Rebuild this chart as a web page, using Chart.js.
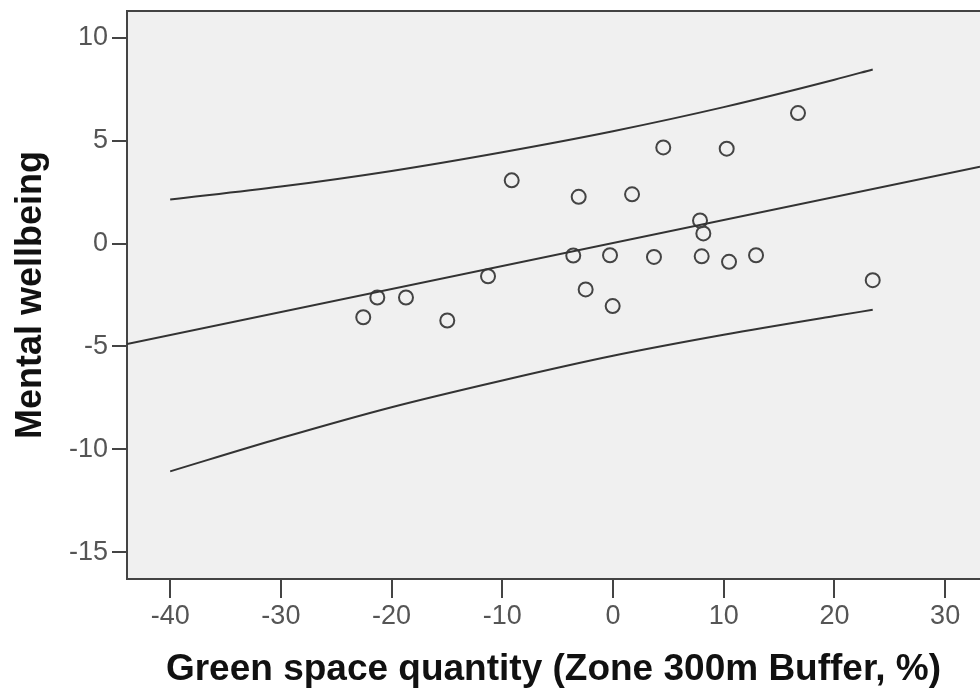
<!DOCTYPE html>
<html>
<head>
<meta charset="utf-8">
<script src="https://cdn.jsdelivr.net/npm/chart.js@4.4.1/dist/chart.umd.min.js"></script>
<style>
  body { margin: 0; background: #fff; }
  #wrap { width: 980px; height: 693px; }
</style>
</head>
<body>
<div id="wrap"><canvas id="scatterChart"></canvas></div>
<script>
// Points
const greenSpace = [-22.56, -21.29, -18.70, -14.97, -11.29, -9.15, -3.59, -3.10, -2.47, -0.27, -0.03,
                    1.72, 3.70, 4.54, 7.86, 8.16, 8.01, 10.27, 10.48, 12.92, 16.71, 23.46];
const wellbeing = [-3.58, -2.62, -2.62, -3.74, -1.59, 3.07, -0.58, 2.27, -2.23, -0.57, -3.04,
                   2.39, -0.65, 4.67, 1.12, 0.49, -0.62, 4.61, -0.89, -0.57, 6.34, -1.78];

// Fit line (runs across the whole frame)
const fitX = [-43.9, 33.15];
const fitY = [-4.88, 3.73];

// Prediction interval curves
const bandX = [-40, -30, -20, -10, 0, 10, 20, 23.46];
const upperY = [2.14, 2.77, 3.53, 4.44, 5.46, 6.63, 7.96, 8.46];
const lowerY = [-11.07, -9.45, -7.95, -6.65, -5.45, -4.43, -3.52, -3.22];

// Axis ticks
const xTicks = [-40, -30, -20, -10, 0, 10, 20, 30];
const yTicks = [-15, -10, -5, 0, 5, 10];

const FONT = "'Liberation Sans', Arial, sans-serif";
const INK = "#444";

const toXY = (xs, ys) => xs.map((x, i) => ({ x: x, y: ys[i] }));

// grey plot background
const plotBg = {
  id: "plotBg",
  beforeDraw(chart) {
    const a = chart.chartArea;
    const ctx = chart.ctx;
    ctx.save();
    ctx.fillStyle = "#f0f0f0";
    ctx.fillRect(a.left, a.top, a.right - a.left, a.bottom - a.top);
    ctx.restore();
  }
};

const lineStyle = {
  type: "line",
  showLine: true,
  borderColor: "#333",
  borderWidth: 2,
  pointRadius: 0,
  fill: false
};

new Chart(document.getElementById("scatterChart"), {
  type: "scatter",
  data: {
    datasets: [
      Object.assign({ label: "Fit", data: toXY(fitX, fitY) }, lineStyle),
      Object.assign({ label: "Upper", data: toXY(bandX, upperY), cubicInterpolationMode: "monotone" }, lineStyle),
      Object.assign({ label: "Lower", data: toXY(bandX, lowerY), cubicInterpolationMode: "monotone" }, lineStyle),
      {
        label: "Mental wellbeing",
        data: toXY(greenSpace, wellbeing),
        pointStyle: "circle",
        pointRadius: 7,
        pointBorderWidth: 2,
        pointBorderColor: INK,
        pointBackgroundColor: "rgba(0,0,0,0)"
      }
    ]
  },
  options: {
    responsive: true,
    maintainAspectRatio: false,
    animation: false,
    layout: { autoPadding: false, padding: { top: 11, right: 0, bottom: 0, left: 0 } },
    plugins: {
      legend: { display: false },
      tooltip: { enabled: false }
    },
    scales: {
      x: {
        type: "linear",
        min: -43.9,
        max: 33.15,
        afterBuildTicks: scale => { scale.ticks = xTicks.map(v => ({ value: v })); },
        afterFit: scale => {
          scale.height = 114;
          scale.paddingLeft = 0;
          scale.paddingRight = 0;
        },
        border: { display: true, color: INK, width: 2 },
        grid: { drawOnChartArea: false, drawTicks: true, tickLength: 19, color: INK, lineWidth: 2 },
        ticks: { color: "#555", font: { family: FONT, size: 27 }, padding: 2, maxRotation: 0 },
        title: {
          display: true,
          text: "Green space quantity (Zone 300m Buffer, %)",
          color: "#111",
          font: { family: FONT, size: 37, weight: "bold" },
          padding: { top: 0, bottom: 1 }
        }
      },
      xTop: {
        type: "linear",
        position: "top",
        min: -43.9,
        max: 33.15,
        afterFit: scale => {
          scale.height = 0;
          scale.paddingLeft = 0;
          scale.paddingRight = 0;
        },
        border: { display: true, color: INK, width: 2 },
        grid: { display: false },
        ticks: { display: false }
      },
      y: {
        type: "linear",
        min: -16.3,
        max: 11.3,
        afterBuildTicks: scale => { scale.ticks = yTicks.map(v => ({ value: v })); },
        afterFit: scale => {
          scale.width = 127;
          scale.paddingTop = 0;
          scale.paddingBottom = 0;
        },
        border: { display: true, color: INK, width: 2 },
        grid: { drawOnChartArea: false, drawTicks: true, tickLength: 15, color: INK, lineWidth: 2 },
        ticks: { color: "#555", font: { family: FONT, size: 27 }, padding: 4 },
        title: {
          display: true,
          text: "Mental wellbeing",
          color: "#111",
          font: { family: FONT, size: 36, weight: "bold" },
          padding: { top: 9, bottom: 0 }
        }
      }
    }
  },
  plugins: [plotBg]
});
</script>
</body>
</html>
